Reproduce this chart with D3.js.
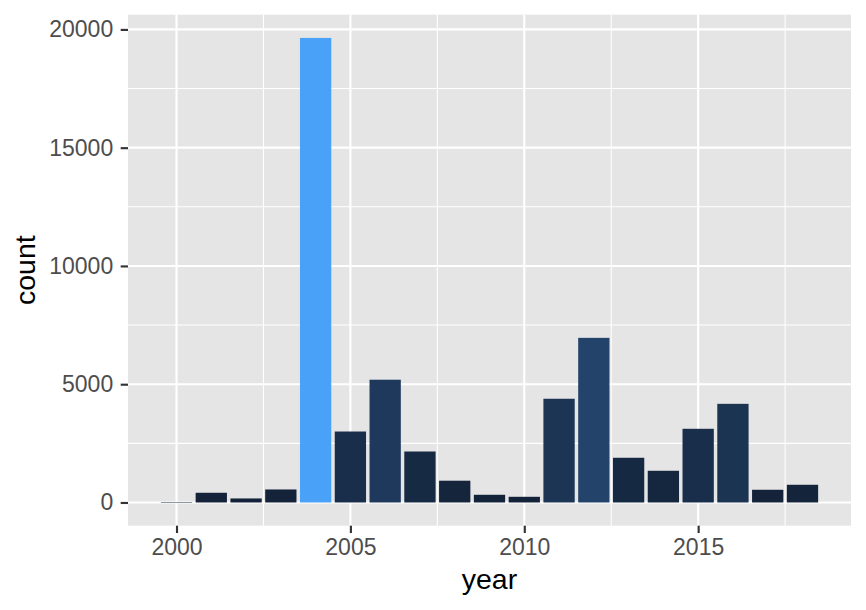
<!DOCTYPE html>
<html>
<head>
<meta charset="utf-8">
<script src="https://cdn.jsdelivr.net/npm/d3@7"></script>
<style>
  body { margin: 0; background: #fff; }
  svg { display: block; font-family: "Liberation Sans", Arial, Helvetica, sans-serif; }
</style>
</head>
<body>
<svg id="chart" width="866" height="610"></svg>
<script>
const years = [2000, 2001, 2002, 2003, 2004, 2005, 2006, 2007, 2008, 2009, 2010, 2011, 2012, 2013, 2014, 2015, 2016, 2017, 2018];
const counts = [20, 410, 170, 550, 19640, 3000, 5190, 2155, 920, 325, 240, 4385, 6960, 1890, 1340, 3115, 4170, 537, 748];
const xTicks = [2000, 2005, 2010, 2015];
const yTicks = [0, 5000, 10000, 15000, 20000];

const svg = d3.select("#chart");
const panel = { left: 128, right: 851, top: 14.7, bottom: 525.7 };

const barW = 0.9;
const xMin = d3.min(years) - barW / 2, xMax = d3.max(years) + barW / 2;
const xPad = (xMax - xMin) * 0.05;
const x = d3.scaleLinear().domain([xMin - xPad, xMax + xPad]).range([panel.left, panel.right]);

const yMaxV = d3.max(counts);
const yPad = yMaxV * 0.05;
const y = d3.scaleLinear().domain([-yPad, yMaxV + yPad]).range([panel.bottom, panel.top]);

const color = d3.scalePow().exponent(1.2).domain([d3.min(counts), d3.max(counts)])
  .range(["#132238", "#4AA2F8"]).interpolate(d3.interpolateLab);

// panel background
svg.append("rect").attr("x", panel.left).attr("y", panel.top)
  .attr("width", panel.right - panel.left).attr("height", panel.bottom - panel.top)
  .attr("fill", "#E5E5E5");

const g = svg.append("g");
// minor grid
const yMinor = yTicks.slice(0, -1).map(v => v + 2500);
const xMinor = [1997.5, 2002.5, 2007.5, 2012.5, 2017.5].filter(v => v >= x.domain()[0] && v <= x.domain()[1]);
g.selectAll(".ymin").data(yMinor).join("line")
  .attr("x1", panel.left).attr("x2", panel.right)
  .attr("y1", d => y(d)).attr("y2", d => y(d))
  .attr("stroke", "#fff").attr("stroke-width", 1.07);
g.selectAll(".xmin").data(xMinor).join("line")
  .attr("y1", panel.top).attr("y2", panel.bottom)
  .attr("x1", d => x(d)).attr("x2", d => x(d))
  .attr("stroke", "#fff").attr("stroke-width", 1.07);
// major grid
g.selectAll(".ymaj").data(yTicks).join("line")
  .attr("x1", panel.left).attr("x2", panel.right)
  .attr("y1", d => y(d)).attr("y2", d => y(d))
  .attr("stroke", "#fff").attr("stroke-width", 2.13);
g.selectAll(".xmaj").data(xTicks).join("line")
  .attr("y1", panel.top).attr("y2", panel.bottom)
  .attr("x1", d => x(d)).attr("x2", d => x(d))
  .attr("stroke", "#fff").attr("stroke-width", 2.13);

// bars
const data = years.map((yr, i) => ({ yr, c: counts[i] }));
svg.append("g").selectAll("rect").data(data).join("rect")
  .attr("x", d => x(d.yr - barW / 2))
  .attr("width", d => x(d.yr + barW / 2) - x(d.yr - barW / 2))
  .attr("y", d => y(d.c))
  .attr("height", d => y(0) - y(d.c))
  .attr("fill", d => color(d.c));

// axes
const xAxis = d3.axisBottom(x).tickValues(xTicks).tickFormat(d3.format("d")).tickSize(7.3).tickPadding(6);
const yAxis = d3.axisLeft(y).tickValues(yTicks).tickFormat(d3.format("d")).tickSize(7.3).tickPadding(7.5);

const gx = svg.append("g").attr("transform", `translate(0,${panel.bottom})`).call(xAxis);
const gy = svg.append("g").attr("transform", `translate(${panel.left},0)`).call(yAxis);
[gx, gy].forEach(a => {
  a.select(".domain").remove();
  a.selectAll(".tick line").attr("stroke", "#333333").attr("stroke-width", 2.13);
  a.selectAll(".tick text").attr("fill", "#4D4D4D").attr("font-size", 23)
    .attr("font-family", "Liberation Sans, Arial, sans-serif");
});

// axis titles
svg.append("text").attr("x", (panel.left + panel.right) / 2).attr("y", 589)
  .attr("text-anchor", "middle").attr("font-size", 28.5).attr("fill", "#000").text("year");
svg.append("text")
  .attr("transform", `translate(35,${(panel.top + panel.bottom) / 2}) rotate(-90)`)
  .attr("text-anchor", "middle").attr("font-size", 28.5).attr("fill", "#000").text("count");
</script>
</body>
</html>
